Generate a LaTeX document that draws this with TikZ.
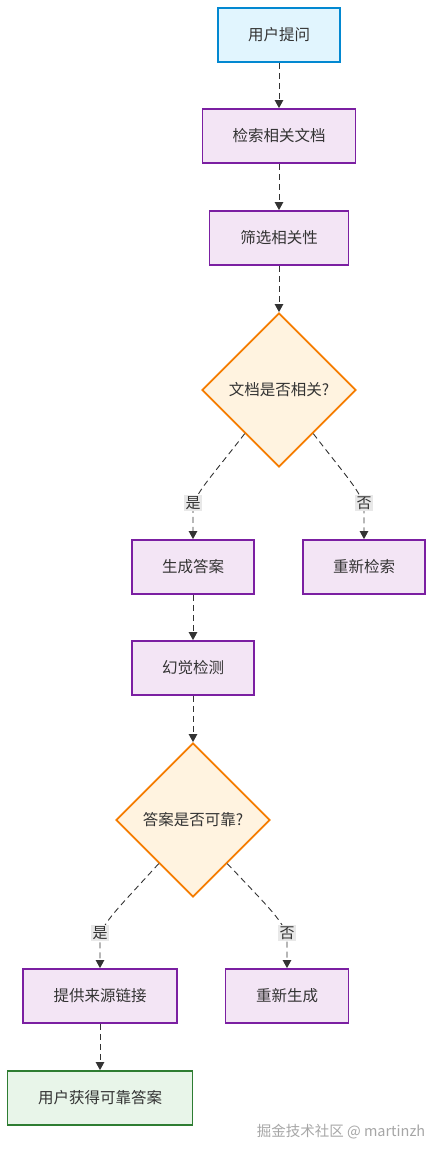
\documentclass[tikz,border=0pt]{standalone}
\usepackage{fontspec}
\setmainfont{Noto Sans CJK SC}
\usetikzlibrary{shapes.geometric,arrows.meta,calc}
\definecolor{txt}{HTML}{333333}
\definecolor{bluefill}{HTML}{E1F5FE}
\definecolor{bluedraw}{HTML}{0288D1}
\definecolor{purpfill}{HTML}{F3E5F5}
\definecolor{purpdraw}{HTML}{7B1FA2}
\definecolor{orfill}{HTML}{FFF3E0}
\definecolor{ordraw}{HTML}{F57C00}
\definecolor{grfill}{HTML}{E8F5E9}
\definecolor{grdraw}{HTML}{2E7D32}
\definecolor{lblfill}{HTML}{E8E8E8}
\tikzset{
  boxbase/.style={rectangle, line width=1.8pt, minimum height=54pt, inner sep=0pt, text=txt, font=\fontsize{15.5}{18}\selectfont},
  startbox/.style={boxbase, fill=bluefill, draw=bluedraw},
  procbox/.style={boxbase, fill=purpfill, draw=purpdraw},
  endbox/.style={boxbase, fill=grfill, draw=grdraw},
  decide/.style={diamond, aspect=1, minimum width=154pt, minimum height=154pt, inner sep=0pt, fill=orfill, draw=ordraw, line width=1.8pt, text=txt, font=\fontsize{15.5}{18}\selectfont},
  edge/.style={draw=txt, line width=0.9pt, dash pattern=on 6pt off 4pt, -{Triangle[length=8pt,width=8.5pt]}},
  lbl/.style={fill=lblfill, text=txt, inner sep=1.5pt, font=\fontsize{15}{17}\selectfont},
}
\begin{document}
\begin{tikzpicture}[x=1pt,y=-1pt]
\useasboundingbox (0,0) rectangle (441,1154);
\node[startbox, minimum width=122pt] (q) at (279,35) {用户提问};
\node[procbox, minimum width=153pt] (r) at (279,136) {检索相关文档};
\node[procbox, minimum width=139pt] (f) at (279,238) {筛选相关性};
\node[decide] (d1) at (279,390) {文档是否相关?};
\node[procbox, minimum width=122pt] (g) at (193,567) {生成答案};
\node[procbox, minimum width=122pt] (rr) at (364,567) {重新检索};
\node[procbox, minimum width=122pt] (h) at (193,668) {幻觉检测};
\node[decide] (d2) at (193,820) {答案是否可靠?};
\node[procbox, minimum width=154pt] (p) at (100,996) {提供来源链接};
\node[procbox, minimum width=123pt] (rg) at (287,996) {重新生成};
\node[endbox, minimum width=185pt] (u) at (100,1098) {用户获得可靠答案};

\draw[edge] (q) -- (r);
\draw[edge] (r) -- (f);
\draw[edge] (f) -- (d1);
\coordinate (s1) at ($(d1.west)!0.56!(d1.south)$);
\coordinate (s2) at ($(d1.east)!0.56!(d1.south)$);
\coordinate (s3) at ($(d2.west)!0.56!(d2.south)$);
\coordinate (s4) at ($(d2.east)!0.56!(d2.south)$);
\draw[edge] (s1) .. controls (205,485) and (193,495) .. (193,512) -- (g.north);
\draw[edge] (s2) .. controls (353,485) and (364,495) .. (364,512) -- (rr.north);
\draw[edge] (g) -- (h);
\draw[edge] (h) -- (d2);
\draw[edge] (s3) .. controls (112,915) and (100,925) .. (100,942) -- (p.north);
\draw[edge] (s4) .. controls (276,915) and (287,925) .. (287,942) -- (rg.north);
\draw[edge] (p) -- (u);
\node[lbl] (l1) at (193,503) {是};
\node[lbl] (l2) at (364,503) {否};
\node[lbl] (l3) at (100,933) {是};
\node[lbl] (l4) at (287,933) {否};
\node[text=gray!70, font=\fontsize{14.5}{17}\selectfont] (wm) at (341,1132) {掘金技术社区 @ martinzh};
\end{tikzpicture}
\end{document}
